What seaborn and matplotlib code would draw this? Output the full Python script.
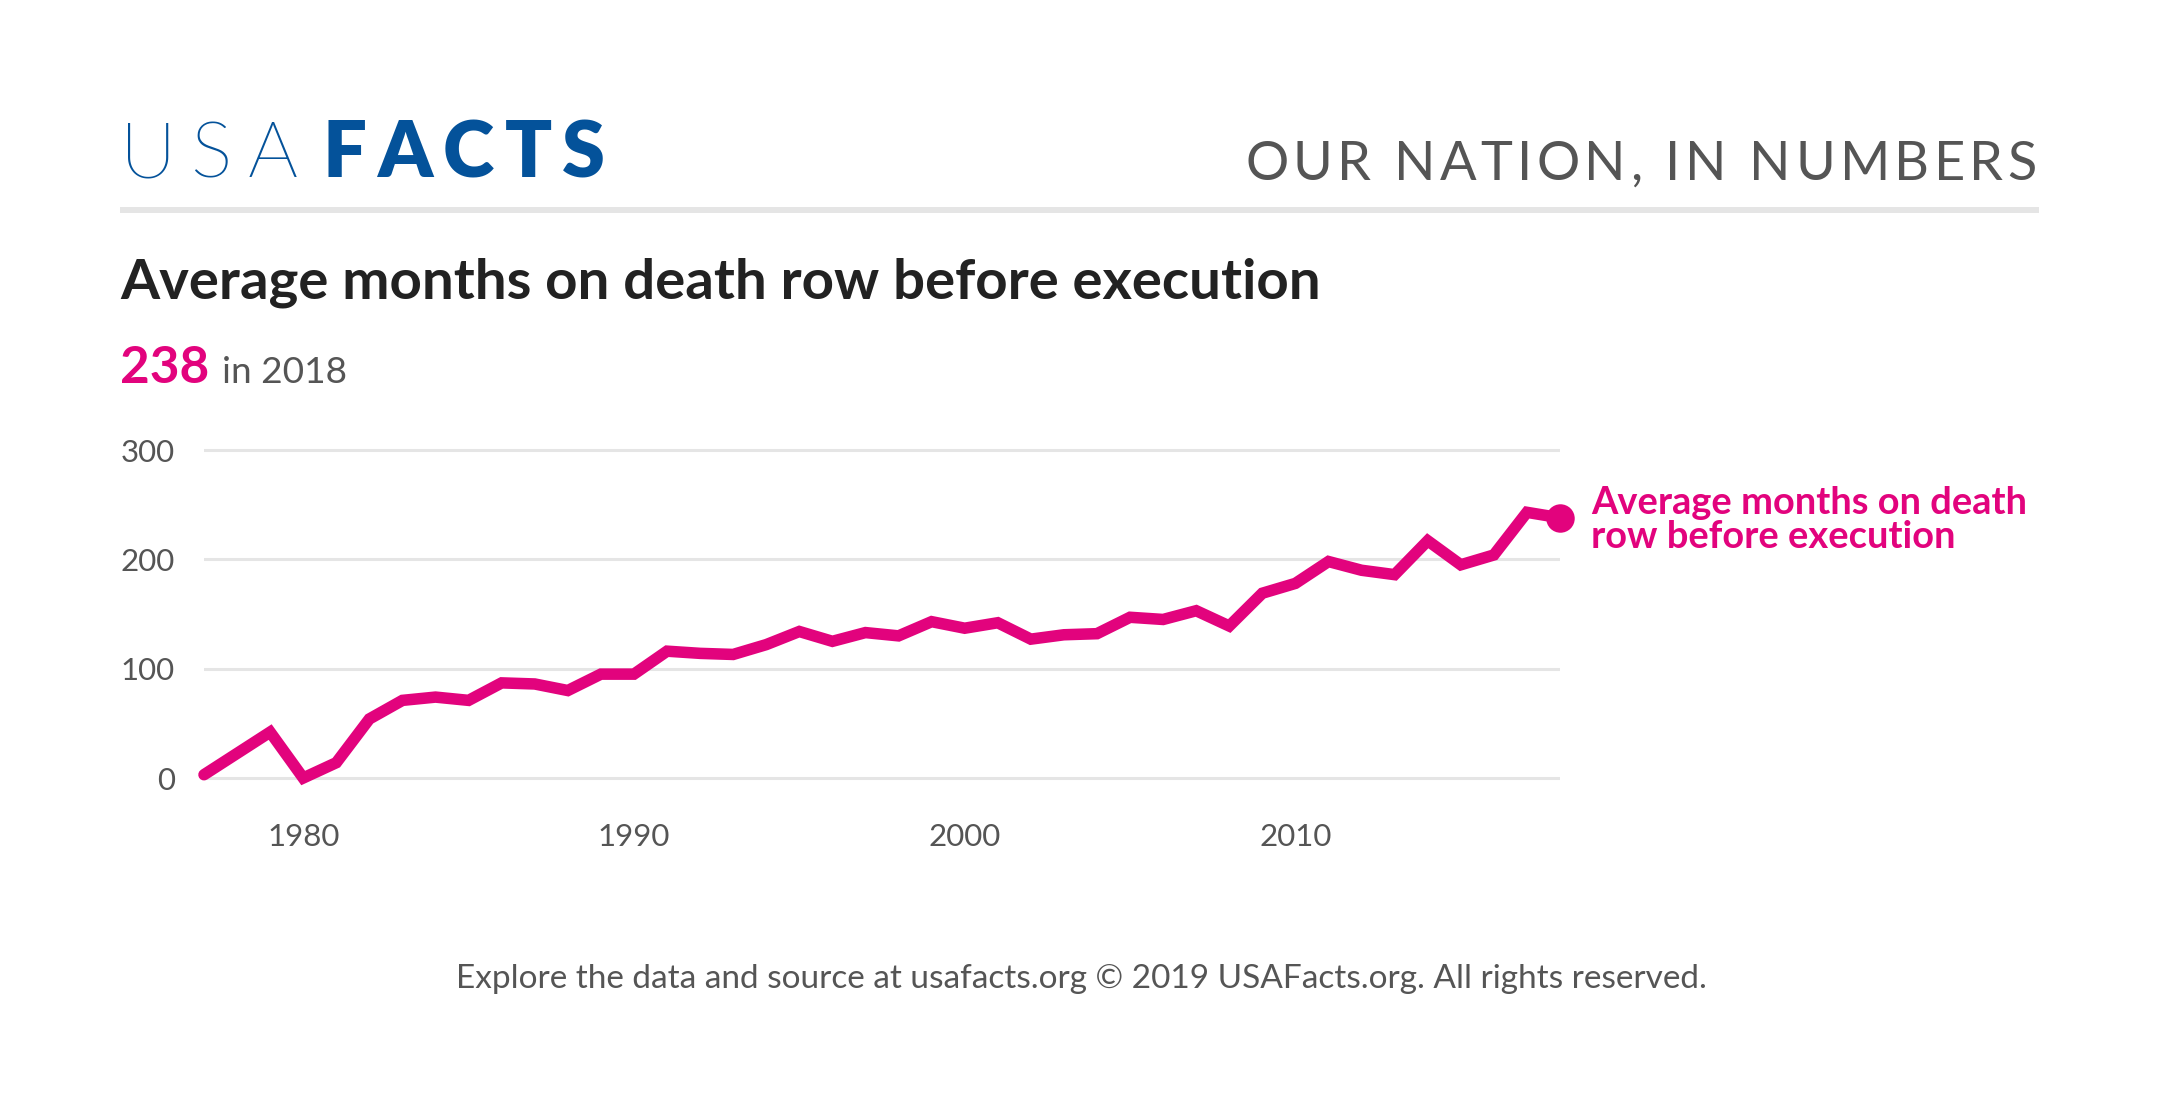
import matplotlib
matplotlib.use("Agg")
import matplotlib.pyplot as plt
from matplotlib.lines import Line2D
from matplotlib import font_manager as fm
import seaborn as sns
import pandas as pd

# ---------------- data ----------------
years = [1977, 1979, 1980, 1981, 1982, 1983, 1984, 1985, 1986, 1987, 1988, 1989,
         1990, 1991, 1992, 1993, 1994, 1995, 1996, 1997, 1998, 1999, 2000, 2001,
         2002, 2003, 2004, 2005, 2006, 2007, 2008, 2009, 2010, 2011, 2012, 2013,
         2014, 2015, 2016, 2017, 2018]
months = [3, 42, 0, 14, 54, 71, 74, 71, 87, 86, 80, 95,
          95, 116, 114, 113, 122, 134, 125, 133, 130, 143, 137, 142,
          127, 131, 132, 147, 145, 153, 139, 169, 178, 198, 190, 186,
          217, 195, 204, 243, 238]
y_ticks = [0, 100, 200, 300]
x_ticks = [1980, 1990, 2000, 2010]
x_tick_labels = ["1980", "1990", "2000", "2010"]

title = "Average months on death row before execution"
headline_value = "238"
headline_rest = "in 2018"
series_label = ["Average months on death", "row before execution"]
tagline = "OUR NATION, IN NUMBERS"
footer = "Explore the data and source at usafacts.org \u00a9 2019 USAFacts.org. All rights reserved."

PINK = "#E2037D"
BLUE = "#04529A"
GRAY = "#555555"
DARK = "#222222"
GRID = "#E5E5E5"

# ---------------- figure ----------------
sns.set_style("white")
plt.rcParams["font.family"] = ["Lato", "DejaVu Sans"]

# find a light (not hairline/thin) Lato face for the "USA" part of the logo
light_fp = None
for fe in fm.fontManager.ttflist:
    fn = fe.fname.lower()
    if "lato" in fn and "light" in fn and "italic" not in fn:
        light_fp = fm.FontProperties(fname=fe.fname)
        break
if light_fp is None:
    light_fp = fm.FontProperties(family="Lato", weight="normal")

W, H = 2160, 1107
fig = plt.figure(figsize=(W / 100, H / 100), dpi=100)
fig.patch.set_facecolor("white")


def P(x, y):
    return x / W, 1 - y / H


# axes: x 1977 -> px 204, 2018 -> px 1560 ; y 0 -> px 778, 300 -> px 450
ylo, yhi = -20, 320
ppu = (778 - 450) / 300.0
bottom_px = 778 + (0 - ylo) * ppu
top_px = 450 - (yhi - 300) * ppu
ax = fig.add_axes([204 / W, 1 - bottom_px / H, (1560 - 204) / W, (bottom_px - top_px) / H])

df = pd.DataFrame({"year": years, "months": months})
sns.lineplot(data=df, x="year", y="months", ax=ax, color=PINK, linewidth=8.3)
ln = ax.lines[0]
ln.set_clip_on(False)
ln.set_solid_capstyle("round")
ln.set_solid_joinstyle("miter")
ln.set_zorder(4)
ax.scatter([years[-1]], [months[-1]], s=20.5 ** 2, color=PINK, zorder=5,
           clip_on=False, linewidths=0)

ax.set_xlim(1977, 2018)
ax.set_ylim(ylo, yhi)
ax.set_yticks(y_ticks)
ax.set_yticklabels([str(v) for v in y_ticks])
ax.set_xticks(x_ticks)
ax.set_xticklabels(x_tick_labels)
ax.yaxis.grid(True, color=GRID, linewidth=2.2)
ax.xaxis.grid(False)
ax.set_axisbelow(True)
for s in ax.spines.values():
    s.set_visible(False)
ax.tick_params(axis="both", length=0, labelsize=22.5, labelcolor=GRAY)
ax.tick_params(axis="y", pad=21)
ax.tick_params(axis="x", pad=17)
ax.set_xlabel("")
ax.set_ylabel("")
if ax.get_legend() is not None:
    ax.get_legend().remove()

fig.canvas.draw()
R = fig.canvas.get_renderer()


def fit(t, target):
    w = t.get_window_extent(R).width
    t.set_fontsize(t.get_fontsize() * target / w)


def spaced(s, x_left, x_right, y, size, **kw):
    items = []
    for c in s:
        if c == " ":
            items.append((None, 0.26 * size * 100 / 72))
        else:
            t = fig.text(0, 0, c, fontsize=size, va="baseline", ha="left", **kw)
            items.append((t, t.get_window_extent(R).width))
    total = sum(w for _, w in items)
    track = (x_right - x_left - total) / (len(items) - 1)
    x = x_left
    for t, w in items:
        if t is not None:
            t.set_position(P(x, y))
        x += w + track


# logo
lp = light_fp.copy()
lp.set_size(56)
items = []
for c in "USA":
    t = fig.text(0, 0, c, fontproperties=lp, color=BLUE, va="baseline", ha="left")
    items.append((t, t.get_window_extent(R).width))
track = (298 - 120 - sum(w for _, w in items)) / 2
x = 120
for t, w in items:
    t.set_position(P(x, 177))
    x += w + track
spaced("FACTS", 323, 605, 177, 56, color=BLUE, fontweight="heavy")

# tagline
spaced(tagline, 1245, 2037, 180, 39, color=GRAY)

# separator
fig.add_artist(Line2D([120 / W, 2039 / W], [1 - 209.5 / H] * 2, transform=fig.transFigure,
                      color=GRID, linewidth=4.3, solid_capstyle="butt"))

# title
t = fig.text(*P(120, 299), title, fontsize=39, fontweight="bold", color=DARK,
             va="baseline", ha="left")
fit(t, 1198)

# headline value
t1 = fig.text(*P(120, 383), headline_value, fontsize=40, fontweight="bold", color=PINK,
              va="baseline", ha="left")
fit(t1, 89)
t2 = fig.text(*P(222, 383), headline_rest, fontsize=26, color=GRAY,
              va="baseline", ha="left")
fit(t2, 125)

# series label
a1 = fig.text(*P(1591, 514), series_label[0], fontsize=25, fontweight="bold", color=PINK,
              va="baseline", ha="left")
fit(a1, 437)
fig.text(*P(1591, 548), series_label[1], fontsize=a1.get_fontsize(), fontweight="bold",
         color=PINK, va="baseline", ha="left")

# footer
f = fig.text(*P(1081, 988), footer, fontsize=23, color=GRAY, va="baseline", ha="center")
fit(f, 1254)

fig.savefig("out.png", dpi=100, facecolor="white")
